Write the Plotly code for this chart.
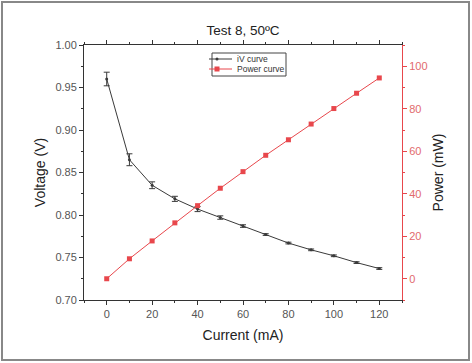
import plotly.graph_objects as go

current = [0, 10, 20, 30, 40, 50, 60, 70, 80, 90, 100, 110, 120]
voltage = [0.960, 0.865, 0.835, 0.819, 0.807, 0.797, 0.787, 0.777, 0.767, 0.759, 0.752, 0.744, 0.737]
voltage_err = [0.008, 0.007, 0.004, 0.003, 0.003, 0.002, 0.0015, 0.001, 0.001, 0.001, 0.001, 0.001, 0.001]
power = [0, 9.4, 17.8, 26.3, 34.4, 42.6, 50.4, 58.1, 65.4, 72.8, 80.1, 87.3, 94.5]

FONT = "Liberation Sans, Arial, sans-serif"
RED = "#e8474c"
RED_TXT = "#e26a6d"

# plot area in pixels: x 84..402, y 45..300
def px(x):
    return (x - 84) / 318

def py(y):
    return 1 - (y - 45) / 255

fig = go.Figure()
fig.add_trace(go.Scatter(
    x=current, y=voltage, name="iV curve", mode="lines+markers", legend="legend",
    line=dict(color="#3a3a3a", width=1),
    marker=dict(color="#3a3a3a", size=3, symbol="circle"),
    error_y=dict(type="data", array=voltage_err, visible=True, color="#3a3a3a", thickness=1, width=3),
))
fig.add_trace(go.Scatter(
    x=current, y=power, name="Power curve", mode="lines+markers", yaxis="y2", legend="legend2",
    line=dict(color=RED, width=1),
    marker=dict(color=RED, size=5, symbol="square"),
))

leg_common = dict(xanchor="left", yanchor="middle", bgcolor="rgba(0,0,0,0)", borderwidth=0,
                  font=dict(size=8.5, color="#333"), itemwidth=30, indentation=-12)

fig.update_layout(
    width=472, height=363,
    margin=dict(l=84, r=70, t=45, b=63),
    paper_bgcolor="white", plot_bgcolor="white",
    font=dict(family=FONT, color="#333"),
    title=dict(text="Test 8, 50ºC", x=(84 + 318 / 2) / 472, xanchor="center", y=1 - 30 / 363, yanchor="middle",
               font=dict(size=13.5, color="#222")),
    showlegend=True,
    legend=dict(x=px(209), y=py(59), **leg_common),
    legend2=dict(x=px(209), y=py(69), **leg_common),
    xaxis=dict(range=[-10, 130], tickvals=[0, 20, 40, 60, 80, 100, 120], showgrid=False, zeroline=False,
               showline=True, linecolor="#333", linewidth=1, mirror="ticks",
               ticks="outside", ticklen=4, tickcolor="#333",
               minor=dict(dtick=10, ticks="outside", ticklen=2, tickcolor="#333", showgrid=False),
               tickfont=dict(size=11, color="#555"),
               title=dict(text="Current (mA)", font=dict(size=14, color="#222"), standoff=10)),
    yaxis=dict(range=[0.70, 1.00], tickvals=[0.70, 0.75, 0.80, 0.85, 0.90, 0.95, 1.00], tickformat=".2f",
               showgrid=False, zeroline=False, showline=True, linecolor="#333", linewidth=1,
               ticks="outside", ticklen=4, tickcolor="#333",
               minor=dict(dtick=0.025, ticks="outside", ticklen=2, tickcolor="#333", showgrid=False),
               tickfont=dict(size=11, color="#555"),
               title=dict(text="Voltage (V)", font=dict(size=14, color="#222"), standoff=6)),
    yaxis2=dict(range=[-10, 110], tickvals=[0, 20, 40, 60, 80, 100], overlaying="y", side="right",
                showgrid=False, zeroline=False, showline=True, linecolor=RED, linewidth=1,
                ticks="outside", ticklen=4, tickcolor=RED,
                minor=dict(dtick=10, ticks="outside", ticklen=2, tickcolor=RED, showgrid=False),
                tickfont=dict(size=11, color=RED_TXT),
                title=dict(text="Power (mW)", font=dict(size=14, color="#222"), standoff=6)),
)

# legend frame
fig.add_shape(type="rect", xref="paper", yref="paper",
              x0=px(212), x1=px(286), y0=py(76), y1=py(53),
              line=dict(color="#444", width=1), fillcolor="white", layer="above")

# outer frame of figure
fig.add_shape(type="rect", xref="paper", yref="paper",
              x0=px(2), x1=px(469), y0=py(360), y1=py(2),
              line=dict(color="#888", width=2), fillcolor="rgba(0,0,0,0)", layer="below")

fig.write_html("out.html")
